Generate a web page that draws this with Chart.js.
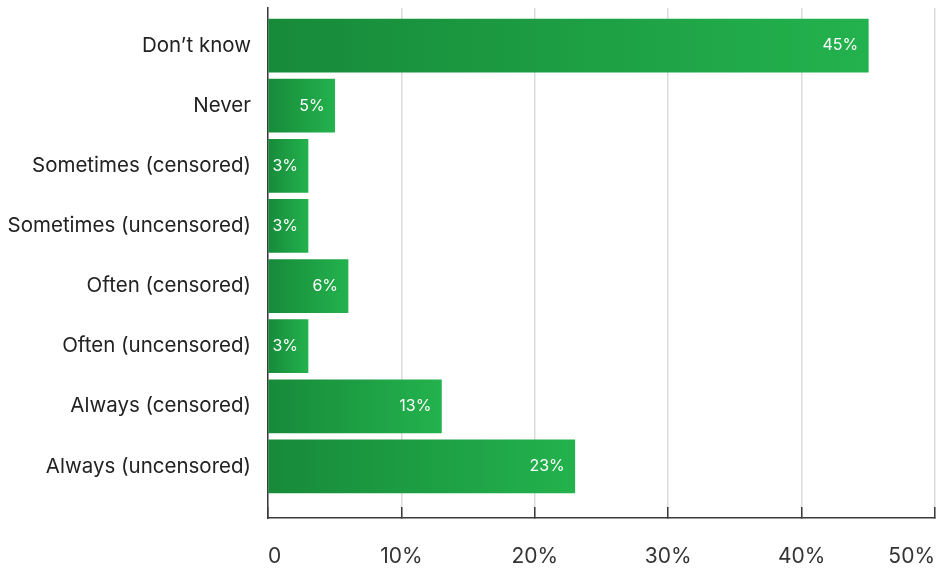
<!DOCTYPE html>
<html>
<head>
<meta charset="utf-8">
<script src="https://cdn.jsdelivr.net/npm/chart.js@4/dist/chart.umd.min.js"></script>
<style>
  html, body { margin: 0; padding: 0; background: #fff; }
  canvas { display: block; }
</style>
</head>
<body>
<canvas id="chart" width="950" height="569"></canvas>
<script>
// ===== Data =====
const categories = [
  "Don’t know",
  "Never",
  "Sometimes (censored)",
  "Sometimes (uncensored)",
  "Often (censored)",
  "Often (uncensored)",
  "Always (censored)",
  "Always (uncensored)"
];
const values = [45, 5, 3, 3, 6, 3, 13, 23];
const xTicks = [0, 10, 20, 30, 40, 50];

// ===== Value labels inside bars =====
const valueLabels = {
  id: "valueLabels",
  afterDatasetsDraw(chart) {
    const ctx = chart.ctx;
    const meta = chart.getDatasetMeta(0);
    ctx.save();
    ctx.fillStyle = "#ffffff";
    ctx.font = "16px Inter";
    ctx.textAlign = "right";
    ctx.textBaseline = "middle";
    meta.data.forEach((bar, i) => {
      ctx.fillText(values[i] + "%", bar.x - 10, bar.y);
    });
    ctx.restore();
  }
};

// gradient from dark green at 0 to lighter green at the bar end
function barGradient(context) {
  const chart = context.chart;
  if (!chart.chartArea || !context.parsed) return "#1d9c42";
  const x = chart.scales.x;
  const x0 = x.getPixelForValue(0);
  const x1 = x.getPixelForValue(context.parsed.x);
  const g = chart.ctx.createLinearGradient(x0, 0, x1, 0);
  g.addColorStop(0, "#178a3a");
  g.addColorStop(1, "#23b24d");
  return g;
}

const ctx = document.getElementById("chart").getContext("2d");
new Chart(ctx, {
  type: "bar",
  data: {
    datasets: [{
      data: values.map((v, i) => ({ x: v, y: i })),
      backgroundColor: barGradient,
      borderWidth: 0,
      barThickness: 53
    }]
  },
  options: {
    indexAxis: "y",
    responsive: false,
    animation: false,
    layout: { padding: { top: 8, right: 15, bottom: 0, left: 0 } },
    plugins: {
      legend: { display: false },
      tooltip: { enabled: false }
    },
    scales: {
      x: {
        type: "linear",
        min: xTicks[0],
        max: xTicks[xTicks.length - 1],
        afterBuildTicks: (scale) => { scale.ticks = xTicks.map(v => ({ value: v })); },
        afterFit: (scale) => {
          scale.height = 51;
          scale.paddingLeft = 0;
          scale.paddingRight = 0;
        },
        grid: {
          color: "#dcdcdc",
          lineWidth: 1.5,
          tickColor: "#3a3a3a",
          tickLength: -11
        },
        border: { color: "#3a3a3a", width: 1.5 },
        ticks: {
          padding: 37,
          align: "inner",
          color: "#333",
          font: { family: "Inter", size: 21 },
          callback: (v) => v === 0 ? "0" : v + "%"
        }
      },
      y: {
        type: "linear",
        reverse: true,
        bounds: "data",
        offset: false,
        min: -0.625,
        max: 7.858,
        afterBuildTicks: (scale) => { scale.ticks = categories.map((c, i) => ({ value: i })); },
        afterFit: (scale) => {
          scale.width = 268;
          scale.paddingTop = 0;
          scale.paddingBottom = 0;
        },
        grid: { display: false, drawTicks: false, offset: false },
        border: { color: "#3a3a3a", width: 1.5 },
        ticks: {
          padding: 17,
          color: "#222",
          font: { family: "Inter", size: 20.5 },
          callback: (v) => categories[v]
        }
      }
    }
  },
  plugins: [valueLabels]
});
</script>
</body>
</html>
